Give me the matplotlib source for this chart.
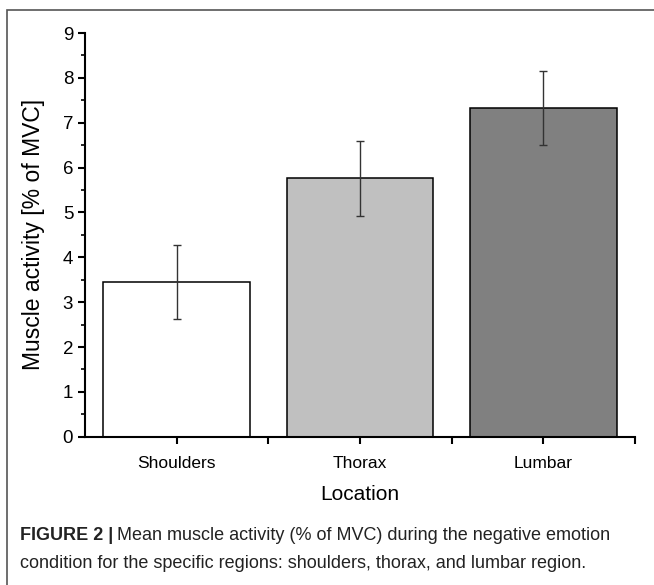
import matplotlib

matplotlib.use("Agg")
import matplotlib.pyplot as plt
from matplotlib.patches import Rectangle
from matplotlib.ticker import MultipleLocator, FixedLocator
import numpy as np

# data
locations = ["Shoulders", "Thorax", "Lumbar"]
means = [3.45, 5.76, 7.33]
errors = [0.82, 0.83, 0.82]
bar_colors = ["#ffffff", "#c0c0c0", "#808080"]

plt.rcParams["font.family"] = ["Liberation Sans", "DejaVu Sans"]

fig = plt.figure(figsize=(6.54, 5.85), dpi=100)
ax = fig.add_axes([0.130, 0.2535, 0.841, 0.690])

x = np.arange(len(locations))
ax.bar(x, means, width=0.8, color=bar_colors, edgecolor="black", linewidth=1.1, zorder=2)
ax.errorbar(x, means, yerr=errors, fmt="none", ecolor="#333333", elinewidth=1.0,
            capsize=3, capthick=1.0, zorder=3)

ax.set_xlim(-0.5, 2.5)
ax.set_ylim(0, 9)
ax.set_xticks(x)
ax.set_xticklabels(locations)
ax.xaxis.set_minor_locator(FixedLocator([0.5, 1.5, 2.5]))
ax.yaxis.set_major_locator(MultipleLocator(1))
ax.yaxis.set_minor_locator(MultipleLocator(0.5))

for s in ["top", "right"]:
    ax.spines[s].set_visible(False)
for s in ["left", "bottom"]:
    ax.spines[s].set_linewidth(1.5)

ax.tick_params(axis="both", which="major", direction="out", length=5, width=1.5,
               colors="black")
ax.tick_params(axis="y", which="major", labelsize=13.5)
ax.tick_params(axis="x", which="major", labelsize=12.5, pad=9)
ax.tick_params(axis="x", which="minor", direction="out", length=5, width=1.5)
ax.tick_params(axis="y", which="minor", direction="out", length=3, width=1.2)

ax.set_ylabel("Muscle activity [% of MVC]", fontsize=16.5, labelpad=13)
ax.set_xlabel("Location", fontsize=15, labelpad=10)

# outer frame of the figure panel
fig.patches.append(Rectangle((7 / 654, -0.05), 1.2, 1.05 - 10 / 585,
                             transform=fig.transFigure, fill=False,
                             edgecolor="#555555", linewidth=1.2))

# caption
cap_y1 = 1 - 535 / 585
cap_y2 = 1 - 563 / 585
t = fig.text(20 / 654, cap_y1, "FIGURE 2 |", fontsize=13, fontweight="bold",
             color="#222222", va="center", ha="left")
fig.canvas.draw()
bb = t.get_window_extent()
fig.text(bb.x1 / fig.bbox.width + 0.006, cap_y1,
         "Mean muscle activity (% of MVC) during the negative emotion",
         fontsize=13, color="#222222", va="center", ha="left")
fig.text(20 / 654, cap_y2,
         "condition for the specific regions: shoulders, thorax, and lumbar region.",
         fontsize=13, color="#222222", va="center", ha="left")

fig.savefig("out.png", dpi=100)
